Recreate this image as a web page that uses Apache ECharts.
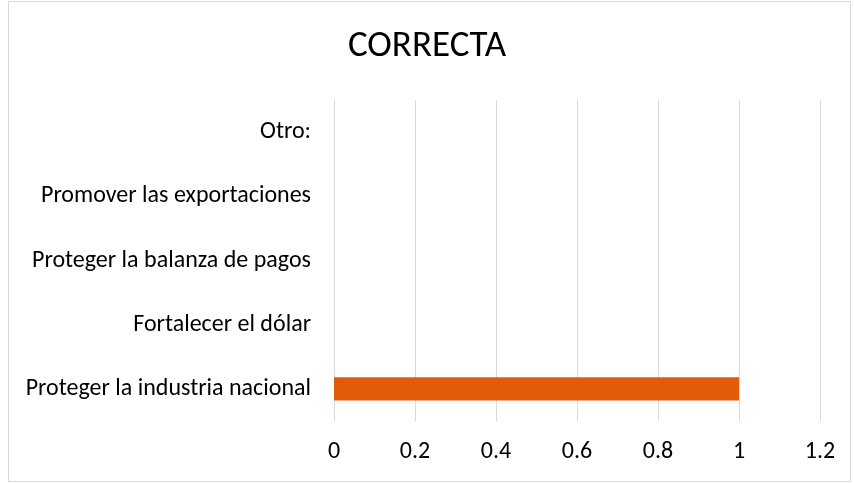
<!DOCTYPE html>
<html>
<head>
    <meta charset="utf-8">
    <script src="https://cdn.jsdelivr.net/npm/echarts@6/dist/echarts.min.js"></script>
    <style>
        html, body { margin: 0; padding: 0; background: #fff; }
    </style>
</head>
<body>
<div id="main" style="width: 854px;height:483px;"></div>
<script type="text/javascript">
    // datos del gráfico
    var categorias = ['Proteger la industria nacional', 'Fortalecer el dólar', 'Proteger la balanza de pagos', 'Promover las exportaciones', 'Otro:'];
    var valores = [1, 0, 0, 0, 0];
    var ticksX = [0, 0.2, 0.4, 0.6, 0.8, 1, 1.2];

    var fuente = 'Carlito, Calibri, "Liberation Sans Narrow", "Noto Sans", sans-serif';
    var myChart = echarts.init(document.getElementById('main'));

    var option = {
        backgroundColor: '#ffffff',
        textStyle: { fontFamily: fuente },
        animation: false,
        title: {
            text: 'CORRECTA',
            left: 'center',
            top: 23,
            textStyle: { fontFamily: fuente, fontSize: 37, fontWeight: 'normal', color: '#000' }
        },
        graphic: [{
            type: 'rect',
            shape: { x: 8.5, y: 1.5, width: 842, height: 480 },
            style: { fill: 'none', stroke: '#d9d9d9', lineWidth: 1 },
            silent: true
        }],
        grid: {
            left: 334,
            right: 34,
            top: 100,
            bottom: 62
        },
        xAxis: {
            type: 'value',
            min: ticksX[0],
            max: ticksX[ticksX.length - 1],
            interval: 0.2,
            axisLine: { show: false },
            axisTick: { show: false },
            splitLine: { lineStyle: { color: '#d9d9d9', width: 1 } },
            axisLabel: {
                margin: 19,
                fontSize: 24,
                color: '#000',
                fontFamily: fuente,
                formatter: function (v) { return String(Math.round(v * 10) / 10); }
            }
        },
        yAxis: {
            type: 'category',
            data: categorias,
            axisLine: { show: false },
            axisTick: { show: false },
            axisLabel: { margin: 23, fontSize: 24, color: '#000', fontFamily: fuente }
        },
        series: [{
            type: 'bar',
            data: valores,
            barWidth: '36%',
            itemStyle: { color: '#E15B0A' }
        }]
    };
    myChart.setOption(option);
</script>
</body>
</html>
